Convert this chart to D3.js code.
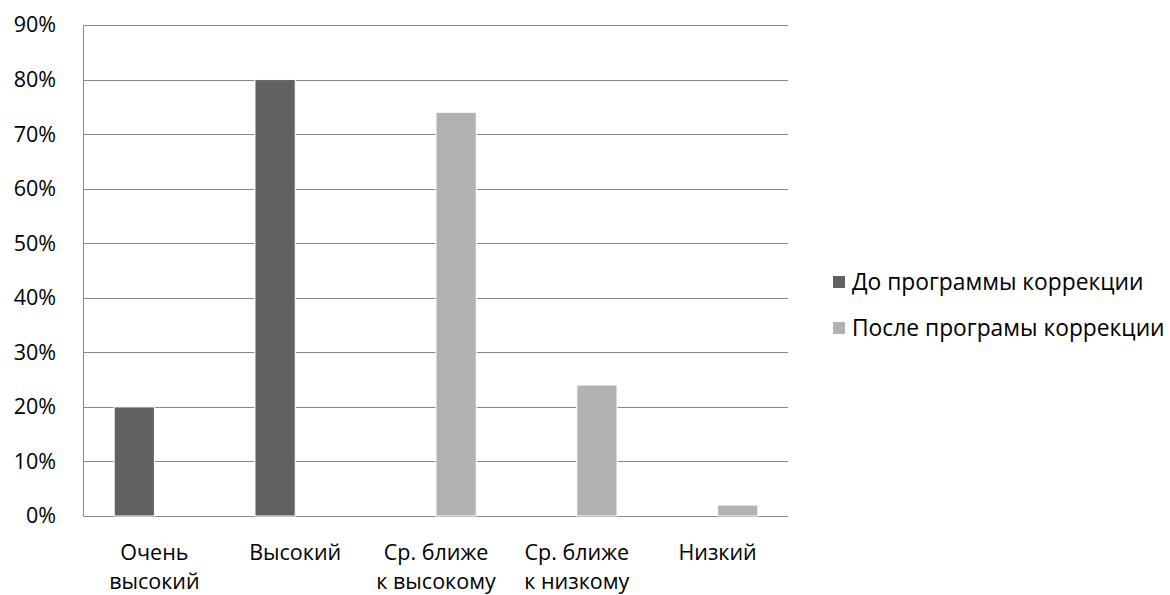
<!DOCTYPE html>
<html>
<head>
<meta charset="utf-8">
<script src="https://cdn.jsdelivr.net/npm/d3@7"></script>
<style>
  html, body { margin: 0; padding: 0; background: #ffffff; }
  svg { display: block; }
  text { font-family: "Open Sans", sans-serif; fill: #000; }
</style>
</head>
<body>
<svg id="chart" width="1170" height="595"></svg>
<script>
// Уровни (категории оси X), каждая подпись — в две строки
const categories = [
  ["Очень", "высокий"],
  ["Высокий"],
  ["Ср. ближе", "к высокому"],
  ["Ср. ближе", "к низкому"],
  ["Низкий"]
];
const seriesNames = ["До программы коррекции", "После програмы коррекции"];
const beforeValues = [0.20, 0.80, 0, 0, 0];
const afterValues  = [0, 0, 0.74, 0.24, 0.02];
const yTicks = [0, 0.1, 0.2, 0.3, 0.4, 0.5, 0.6, 0.7, 0.8, 0.9];
const colors = ["#616161", "#b2b2b2"];

const FONT = "'Open Sans', sans-serif";
const FS = 21.5;
const FS_LEGEND = 22.8;

const svg = d3.select("#chart");
const plot = { left: 84, right: 788, top: 25, bottom: 516 };

const x0 = d3.scaleBand()
  .domain(d3.range(categories.length))
  .range([plot.left, plot.right])
  .paddingInner(0)
  .paddingOuter(0);

// Excel-style clustered bars: gap width 150%
const x1 = d3.scaleBand()
  .domain([0, 1])
  .range([0, x0.bandwidth()])
  .paddingInner(0)
  .paddingOuter(0.75);

const y = d3.scaleLinear().domain([0, 0.9]).range([plot.bottom, plot.top]);

// Horizontal gridlines
svg.append("g")
  .selectAll("line")
  .data(yTicks)
  .join("line")
  .attr("x1", plot.left)
  .attr("x2", plot.right)
  .attr("y1", d => Math.round(y(d)) + 0.5)
  .attr("y2", d => Math.round(y(d)) + 0.5)
  .attr("stroke", "#8a8a8a")
  .attr("stroke-width", 1);

// Y axis line
svg.append("line")
  .attr("x1", plot.left - 0.5).attr("x2", plot.left - 0.5)
  .attr("y1", plot.top).attr("y2", plot.bottom + 0.5)
  .attr("stroke", "#8a8a8a");

// Y axis labels
const yAxis = d3.axisLeft(y)
  .tickValues(yTicks)
  .tickFormat(d3.format(".0%"))
  .tickSize(0)
  .tickPadding(28);
const gy = svg.append("g")
  .attr("transform", `translate(${plot.left},0)`)
  .call(yAxis);
gy.select(".domain").remove();
gy.selectAll("text")
  .attr("font-family", FONT)
  .attr("font-size", FS)
  .attr("fill", "#000");

// Bars
const series = [beforeValues, afterValues];
series.forEach((vals, si) => {
  svg.append("g")
    .selectAll("rect")
    .data(vals.map((v, i) => ({ v, i })).filter(d => d.v > 0))
    .join("rect")
    .attr("x", d => x0(d.i) + x1(si))
    .attr("width", x1.bandwidth())
    .attr("y", d => y(d.v))
    .attr("height", d => y(0) - y(d.v))
    .attr("fill", colors[si])
    .attr("stroke", "#ffffff")
    .attr("stroke-width", 1);
});

// X axis labels
const xl = svg.append("g");
categories.forEach((lines, i) => {
  const t = xl.append("text")
    .attr("x", x0(i) + x0.bandwidth() / 2)
    .attr("y", 560)
    .attr("text-anchor", "middle")
    .attr("font-size", FS);
  lines.forEach((ln, k) => {
    t.append("tspan")
      .attr("x", x0(i) + x0.bandwidth() / 2)
      .attr("dy", k === 0 ? 0 : 29)
      .text(ln);
  });
});

// Legend
const legend = svg.append("g");
seriesNames.forEach((name, i) => {
  const cy = 282 + i * 46;
  legend.append("rect")
    .attr("x", 833).attr("y", cy - 6)
    .attr("width", 12).attr("height", 12)
    .attr("fill", colors[i]);
  legend.append("text")
    .attr("x", 852).attr("y", cy)
    .attr("dy", "0.35em")
    .attr("font-size", FS_LEGEND)
    .text(name);
});
</script>
</body>
</html>
